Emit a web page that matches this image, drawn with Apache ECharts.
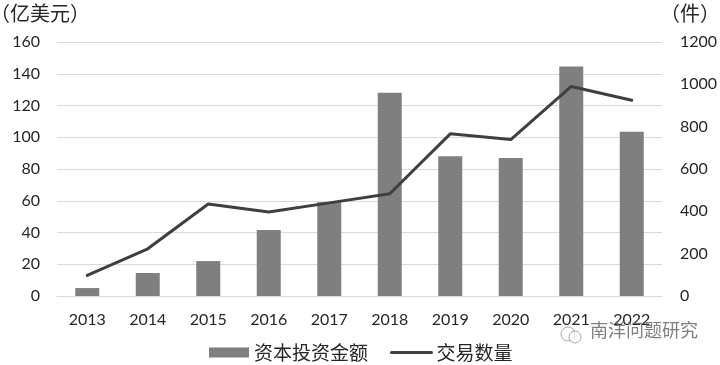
<!DOCTYPE html>
<html>
<head>
<meta charset="utf-8">
<style>
  html, body { margin: 0; padding: 0; background: #fff; }
  #chart { width: 720px; height: 365px; }
</style>
<script src="https://cdn.jsdelivr.net/npm/echarts@6/dist/echarts.min.js"></script>
</head>
<body>
<div id="chart"></div>
<script>
const years = ['2013', '2014', '2015', '2016', '2017', '2018', '2019', '2020', '2021', '2022']
const investment = [5, 14.5, 22, 41.5, 59, 128, 88, 87, 144.5, 103.5]
const deals = [97, 223, 435, 397, 440, 483, 766, 739, 990, 925]

const cjk = '"Noto Sans CJK SC", sans-serif'
const latin = 'Lato, "Open Sans", sans-serif'
const ink = '#262626'

const chart = echarts.init(document.getElementById('chart'), null, { renderer: 'canvas' })

chart.setOption({
  backgroundColor: '#fff',
  animation: false,
  grid: { left: 57, right: 58, top: 42, bottom: 69, outerBoundsMode: 'none' },
  legend: {
    left: 204,
    top: 338,
    itemWidth: 40,
    itemHeight: 10,
    itemGap: 22,
    textStyle: { fontFamily: cjk, fontSize: 19, color: ink },
    data: [
      { name: '资本投资金额', icon: 'rect' },
      { name: '交易数量', itemStyle: { opacity: 0 }, lineStyle: { width: 3, color: '#3f3f3f' } },
    ],
  },
  xAxis: {
    type: 'category',
    data: years,
    axisTick: { show: false },
    axisLine: { lineStyle: { color: '#d9d9d9', width: 1 } },
    axisLabel: { fontFamily: latin, fontSize: 16, color: ink, margin: 16 },
  },
  yAxis: [
    {
      type: 'value',
      min: 0,
      max: 160,
      interval: 20,
      name: '（亿美元）',
      nameLocation: 'end',
      nameGap: 19,
      nameTextStyle: { fontFamily: cjk, fontSize: 20, color: ink, align: 'center', padding: [0, 34, 0, 0] },
      axisLine: { show: false },
      axisTick: { show: false },
      axisLabel: { fontFamily: latin, fontSize: 16, color: ink, margin: 17 },
      splitLine: { lineStyle: { color: '#d9d9d9', width: 1 } },
    },
    {
      type: 'value',
      min: 0,
      max: 1200,
      interval: 200,
      name: '（件）',
      nameLocation: 'end',
      nameGap: 19,
      nameTextStyle: { fontFamily: cjk, fontSize: 20, color: ink, align: 'center', padding: [0, 0, 0, 56] },
      axisLine: { show: false },
      axisTick: { show: false },
      axisLabel: { fontFamily: latin, fontSize: 16, color: ink, margin: 18, formatter: (v) => String(v) },
      splitLine: { show: false },
    },
  ],
  series: [
    {
      name: '资本投资金额',
      type: 'bar',
      data: investment,
      barWidth: 24,
      itemStyle: { color: '#7f7f7f' },
    },
    {
      name: '交易数量',
      type: 'line',
      yAxisIndex: 1,
      data: deals,
      showSymbol: false,
      symbol: 'none',
      lineStyle: { color: '#3f3f3f', width: 3, cap: 'round', join: 'round' },
      itemStyle: { color: '#3f3f3f' },
    },
  ],
  graphic: [
    // 水印
    {
      type: 'text',
      left: 590,
      top: 321,
      z: 100,
      style: { text: '南洋问题研究', fontFamily: cjk, fontSize: 18, fill: 'rgba(105,105,105,0.85)' },
    },
    {
      type: 'circle',
      shape: { cx: 568, cy: 334, r: 7 },
      z: 100,
      style: { fill: 'rgba(255,255,255,0.7)', stroke: 'rgba(130,130,130,0.7)', lineWidth: 1 },
    },
    {
      type: 'circle',
      shape: { cx: 575, cy: 337, r: 6 },
      z: 100,
      style: { fill: 'rgba(255,255,255,0.7)', stroke: 'rgba(130,130,130,0.7)', lineWidth: 1 },
    },
  ],
})

window.addEventListener('resize', () => chart.resize())
</script>
</body>
</html>
